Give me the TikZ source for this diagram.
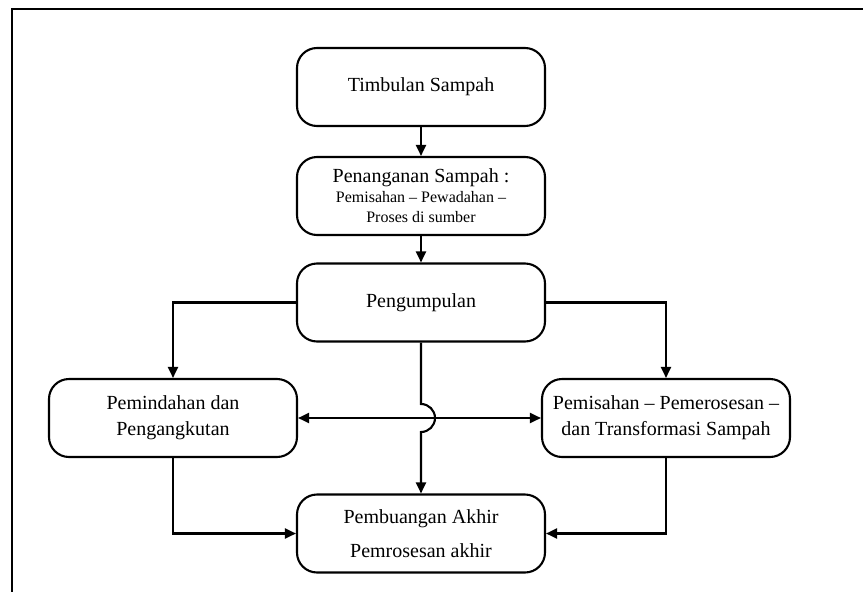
\documentclass[tikz,border=0pt]{standalone}
\usepackage{fontspec}
\setmainfont{Liberation Serif}
\usetikzlibrary{arrows.meta}

\tikzset{
    box/.style={draw, line width=2.1pt, rounded corners=20pt, minimum width=248pt, minimum height=78pt, align=center, fill=white, font=\fontsize{20}{26}\selectfont}
}

\begin{document}
\begin{tikzpicture}[x=1pt,y=-1pt,line width=2.1pt,>={Triangle[length=11pt,width=10pt]}]
    \useasboundingbox (0,0) rectangle (863,592);
    \draw[line width=2.8pt] (12,592)--(12,9)--(863,9);
    \node[box] (11) at (421,87) {Timbulan Sampah};
    \node[box,font=\fontsize{16}{20}\selectfont] (21) at (421,196) {{\fontsize{20}{22}\selectfont Penanganan Sampah :}\\Pemisahan -- Pewadahan --\\Proses di sumber};
    \node[box] (31) at (421,302.5) {Pengumpulan};
    \node[box] (41) at (173,418) {Pemindahan dan\\Pengangkutan};
    \node[box] (42) at (666,418) {Pemisahan -- Pemerosesan --\\dan Transformasi Sampah};
    \node[box] (51) at (421,533.5) {Pembuangan Akhir\\[8pt]Pemrosesan akhir};
    \coordinate (j) at (31.south |- 41.east);
    \draw[->] (11)--(21);
    \draw[->] (21)--(31);
    \draw[->] (31.west) -| (41);
    \draw[->] (31.east) -| (42);
    \draw[<->] (41)--(42);
    \draw[->] (31.south)--([yshift=14pt]j) arc[start angle=90,end angle=-90,radius=14pt]--(51.north);
    \draw[->] (41.south) |- (51.west);
    \draw[->] (42.south) |- (51.east);
\end{tikzpicture}
\end{document}
